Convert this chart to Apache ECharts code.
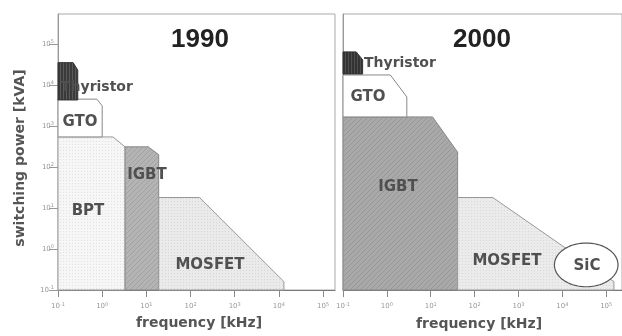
<!DOCTYPE html>
<html><head><meta charset="utf-8">
<script src="https://cdn.jsdelivr.net/npm/echarts@6/dist/echarts.min.js"></script>
<style>html,body{margin:0;padding:0;background:#fff}#c{width:622px;height:336px}</style>
</head><body><div id="c"></div>
<script>
// Tick exponents (10^n)
const xTickExp = [-1, 0, 1, 2, 3, 4, 5];   // frequency [kHz]
const yTickExp = [-1, 0, 1, 2, 3, 4, 5];   // switching power [kVA]
const panels = ['1990', '2000'];

// Device regions: vertices [frequency kHz, switching power kVA]
const thyristor1990 = [[0.1, 35000], [0.22, 35000], [0.28, 23000], [0.28, 4300], [0.1, 4300]];
const gto1990       = [[0.1, 4500], [0.76, 4500], [1.0, 3100], [1.0, 540], [0.1, 540]];
const bpt1990       = [[0.1, 540], [1.75, 540], [3.3, 310], [3.3, 0.1], [0.1, 0.1]];
const igbt1990      = [[3.3, 310], [11, 310], [19, 200], [19, 0.1], [3.3, 0.1]];
const mosfet1990    = [[19, 18], [160, 18], [13000, 0.16], [13000, 0.1], [19, 0.1]];

const thyristor2000 = [[0.1, 64000], [0.2, 64000], [0.28, 41000], [0.28, 18500], [0.1, 18500]];
const gto2000       = [[0.1, 17500], [1.2, 17500], [2.85, 5100], [2.85, 1660], [0.1, 1660]];
const igbt2000      = [[0.1, 1660], [11, 1660], [41, 230], [41, 0.1], [0.1, 0.1]];
const mosfet2000    = [[41, 18], [260, 18], [150000, 0.16], [150000, 0.1], [41, 0.1]];
const sic2000Box    = [[6600, 0.12], [186000, 1.4]];   // ellipse bounding box

function pat(bg, fg, kind) {
  const c = document.createElement('canvas');
  const n = kind === 'diag' ? 5 : 3;
  c.width = n; c.height = n;
  const g = c.getContext('2d');
  g.fillStyle = bg; g.fillRect(0, 0, n, n);
  g.fillStyle = fg;
  if (kind === 'dots') { g.fillRect(0, 0, 1, 1); }
  else if (kind === 'diag') { for (let i = 0; i < n; i++) g.fillRect(i, n - 1 - i, 1, 1); }
  else if (kind === 'vert') { g.fillRect(0, 0, 1, n); }
  return { image: c, repeat: 'repeat' };
}

const L = v => Math.log10(v);
function poly(gi, pts, fill, stroke, z) {
  return {
    type: 'custom', xAxisIndex: gi, yAxisIndex: gi, data: [[0, 0]], silent: true, z: z || 2,
    renderItem: (p, api) => ({
      type: 'polygon',
      shape: { points: pts.map(q => api.coord([L(q[0]), L(q[1])])) },
      style: { fill: fill, stroke: stroke || 'none', lineWidth: 1 }
    })
  };
}
function ellipse(gi, box, z) {
  return {
    type: 'custom', xAxisIndex: gi, yAxisIndex: gi, data: [[0, 0]], silent: true, z: z || 3,
    renderItem: (p, api) => {
      const a = api.coord([L(box[0][0]), L(box[0][1])]);
      const b = api.coord([L(box[1][0]), L(box[1][1])]);
      const cx = (a[0] + b[0]) / 2, cy = (a[1] + b[1]) / 2;
      const rx = Math.abs(b[0] - a[0]) / 2, ry = Math.abs(b[1] - a[1]) / 2;
      const pts = [];
      for (let i = 0; i < 72; i++) { const t = i / 72 * Math.PI * 2; pts.push([cx + rx * Math.cos(t), cy + ry * Math.sin(t)]); }
      return { type: 'polygon', shape: { points: pts }, style: { fill: '#fff', stroke: '#555', lineWidth: 1.2 } };
    }
  };
}

const tickFmt = v => (Math.abs(v - Math.round(v)) < 1e-6) ? '{b|10}{s|' + Math.round(v) + '}' : '';
const tickRich = { b: { fontSize: 7, color: '#999', fontFamily: 'DejaVu Sans' }, s: { fontSize: 5, color: '#999', verticalAlign: 'top', padding: [0, 0, 4, 0], fontFamily: 'DejaVu Sans' } };

function xAxis(gi, max) {
  return {
    type: 'value', gridIndex: gi, min: -1, max: max, interval: 1,
    axisLine: { show: true, onZero: false, lineStyle: { color: '#777', width: 1 } },
    axisTick: { show: true, length: 7, customValues: xTickExp, lineStyle: { color: '#888' } },
    axisLabel: { formatter: tickFmt, customValues: xTickExp, rich: tickRich, margin: 12 },
    splitLine: { show: false }
  };
}
function yAxis(gi, showLabels) {
  return {
    type: 'value', gridIndex: gi, min: -1, max: 5.73, interval: 1,
    axisLine: { show: true, onZero: false, lineStyle: { color: '#999', width: 1 } },
    axisTick: { show: showLabels, length: 9, customValues: yTickExp, lineStyle: { color: '#999' } },
    axisLabel: { show: showLabels, formatter: tickFmt, customValues: yTickExp, rich: tickRich, margin: 4 },
    splitLine: { show: false }
  };
}

const lab = { fontFamily: 'DejaVu Sans', fontWeight: 'bold', fontSize: 15, fill: '#505050' };
function txt(x, y, t, extra) {
  return { type: 'text', x: x, y: y, z: 50, style: Object.assign({ text: t, textAlign: 'center', textVerticalAlign: 'middle' }, lab, extra || {}) };
}

const chart = echarts.init(document.getElementById('c'), null, { renderer: 'canvas' });
chart.setOption({
  animation: false,
  backgroundColor: '#fff',
  grid: [
    { left: 58, top: 14, width: 277, height: 276, show: true, borderColor: '#aaa', borderWidth: 1, backgroundColor: 'transparent' },
    { left: 343, top: 14, width: 280, height: 276, show: true, borderColor: '#aaa', borderWidth: 1, backgroundColor: 'transparent' }
  ],
  xAxis: [xAxis(0, 5.27), xAxis(1, 5.36)],
  yAxis: [yAxis(0, true), yAxis(1, false)],
  series: [
    poly(0, bpt1990, pat('#f6f6f6', '#e2e2e2', 'dots'), '#999'),
    poly(0, igbt1990, pat('#b4b4b4', '#a2a2a2', 'diag'), '#888'),
    poly(0, mosfet1990, pat('#eaeaea', '#d6d6d6', 'dots'), '#999'),
    poly(0, gto1990, '#ffffff', '#888'),
    poly(0, thyristor1990, pat('#3a3a3a', '#5a5a5a', 'vert'), '#333'),
    poly(1, igbt2000, pat('#a9a9a9', '#979797', 'diag'), '#888'),
    poly(1, mosfet2000, pat('#ebebeb', '#d8d8d8', 'dots'), '#999'),
    poly(1, gto2000, '#ffffff', '#888'),
    poly(1, thyristor2000, pat('#333333', '#4e4e4e', 'vert'), '#333'),
    ellipse(1, sic2000Box)
  ],
  graphic: [
    txt(200, 40, panels[0], { fontFamily: 'Liberation Sans', fontSize: 26, fontWeight: 'bold', fill: '#222' }),
    txt(482, 40, panels[1], { fontFamily: 'Liberation Sans', fontSize: 26, fontWeight: 'bold', fill: '#222' }),
    txt(61, 87, 'Thyristor', { textAlign: 'left', fontSize: 14 }),
    txt(80, 122, 'GTO'),
    txt(88, 211, 'BPT'),
    txt(147, 175, 'IGBT'),
    txt(210, 265, 'MOSFET'),
    txt(364, 63, 'Thyristor', { textAlign: 'left', fontSize: 14 }),
    txt(368, 97, 'GTO'),
    txt(398, 187, 'IGBT'),
    txt(507, 261, 'MOSFET'),
    txt(587, 266, 'SiC'),
    txt(199, 323, 'frequency [kHz]', { fontSize: 14, fill: '#555' }),
    txt(479, 324, 'frequency [kHz]', { fontSize: 14, fill: '#555' }),
    { type: 'text', x: 20, y: 158, rotation: Math.PI / 2, z: 50,
      style: Object.assign({ text: 'switching power [kVA]', textAlign: 'center', textVerticalAlign: 'middle' }, lab, { fontSize: 14, fill: '#555' }) }
  ]
});
</script></body></html>
